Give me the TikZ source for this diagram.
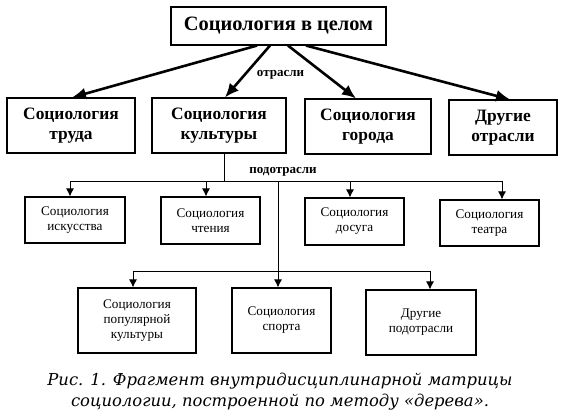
\documentclass[tikz,border=0pt]{standalone}
\usepackage{fontspec}
\setmainfont{Liberation Serif}
\newfontfamily\capfont{DejaVu Serif}
\usetikzlibrary{arrows.meta}
\begin{document}
\begin{tikzpicture}[x=1pt,y=-1pt,
  box/.style={draw,line width=1.1pt,rectangle,align=center,inner sep=0pt},
  bigbox/.style={box,font=\bfseries\fontsize{17.4}{20}\selectfont},
  smallbox/.style={box,font=\fontsize{13.2}{15}\selectfont},
  toparrow/.style={line width=2.6pt,-{Latex[length=14pt,width=12pt]}},
  subline/.style={line width=1pt},
  subarrow/.style={line width=1pt,-{Latex[length=8pt,width=8pt]}},
  lbl/.style={font=\bfseries\fontsize{13}{15}\selectfont,inner sep=1pt}]
\useasboundingbox (0,0) rectangle (567,416);
% top
\node[box,font=\bfseries\fontsize{20.4}{23}\selectfont,minimum width=215pt,minimum height=38pt] (top) at (278.5,26) {Социология в целом};
% second row
\node[bigbox,minimum width=128pt,minimum height=55pt] (b1) at (71,125.5) {Социология\\труда};
\node[bigbox,minimum width=134pt,minimum height=55pt] (b2) at (219,125.5) {Социология\\культуры};
\node[bigbox,minimum width=126pt,minimum height=55pt] (b3) at (368,126.5) {Социология\\города};
\node[bigbox,minimum width=108pt,minimum height=55pt] (b4) at (503,127.5) {Другие\\отрасли};
\draw[toparrow] ([xshift=-21.5pt]top.south) -- ([xshift=1pt]b1.north);
\draw[toparrow] ([xshift=-8.5pt]top.south) -- ([xshift=6pt]b2.north);
\draw[toparrow] ([xshift=9.5pt]top.south) -- ([xshift=-12pt]b3.north);
\draw[toparrow] ([xshift=27.5pt]top.south) -- ([xshift=7pt]b4.north);
\node[lbl] (l1) at (280.5,75) {отрасли};
% third row
\node[smallbox,minimum width=100pt,minimum height=46pt] (c1) at (75,220) {Социология\\искусства};
\node[smallbox,minimum width=99pt,minimum height=47pt] (c2) at (210.5,220.5) {Социология\\чтения};
\node[smallbox,minimum width=99pt,minimum height=47pt] (c3) at (354.5,221.5) {Социология\\досуга};
\node[smallbox,minimum width=99pt,minimum height=46pt] (c4) at (489.5,223) {Социология\\театра};
\coordinate (hb) at (224,181);
\coordinate (h1) at (70,181);
\coordinate (h2) at (206,181);
\coordinate (h3) at (350,181);
\coordinate (h4) at (502,181);
\coordinate (v1) at (278,181);
\draw[subline] ([xshift=5pt]b2.south) -- (hb);
\draw[subline] (h1) -- (h4);
\draw[subarrow] (h1) -- (h1 |- c1.north);
\draw[subarrow] (h2) -- (h2 |- c2.north);
\draw[subarrow] (h3) -- (h3 |- c3.north);
\draw[subarrow] (h4) -- (h4 |- c4.north);
\node[lbl] (l2) at (283,172) {подотрасли};
% fourth row
\node[smallbox,font=\fontsize{13.2}{14.6}\selectfont,minimum width=118pt,minimum height=65pt] (d1) at (137,320.5) {Социология\\популярной\\культуры};
\node[smallbox,minimum width=99pt,minimum height=65pt] (d2) at (281.5,320.5) {Социология\\спорта};
\node[smallbox,minimum width=110pt,minimum height=65pt] (d3) at (421,322.5) {Другие\\подотрасли};
\coordinate (g1) at (133,271);
\coordinate (g2) at (430,271);
\draw[subarrow] (v1) -- (v1 |- d2.north);
\draw[subline] (g1) -- (g2);
\draw[subarrow] (g1) -- (g1 |- d1.north);
\draw[subarrow] (g2) -- (g2 |- d3.north);
% caption
\node[font=\capfont\itshape\fontsize{16.4}{21}\selectfont,align=center,inner sep=0pt] (cap) at (280,392) {Рис. 1. Фрагмент внутридисциплинарной матрицы\\социологии, построенной по методу «дерева».};
\end{tikzpicture}
\end{document}
